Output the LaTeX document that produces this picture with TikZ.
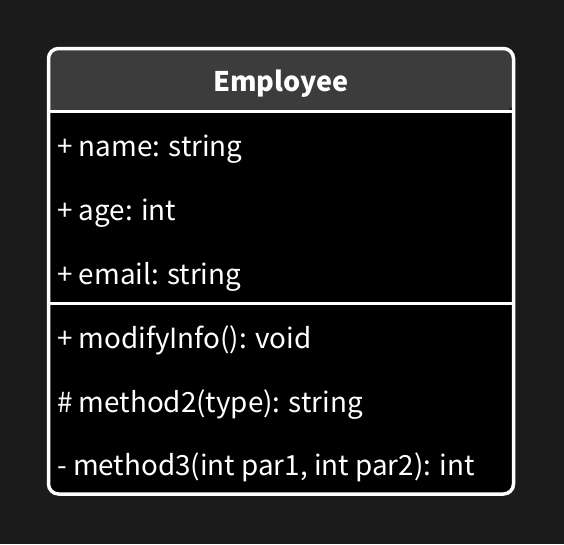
\documentclass[tikz,border=0pt]{standalone}
\usepackage{fontspec}
\newfontfamily\umlfont{Noto Sans CJK SC}
\definecolor{pagebg}{HTML}{1B1B1B}
\definecolor{headgray}{HTML}{3C3C3C}
\tikzset{
  member/.style={anchor=base west, inner sep=0pt, text=white, font=\umlfont\fontsize{27.8}{32}\selectfont},
  classname/.style={anchor=base, inner sep=0pt, text=white, font=\umlfont\bfseries\fontsize{27}{32}\selectfont},
}
\begin{document}
\begin{tikzpicture}[x=1pt, y=-1pt]
        % Page background, fixes the size of the picture
        \fill[pagebg] (0,0) rectangle (564,544);
        \useasboundingbox (0,0) rectangle (564,544);

        % Corners of the class box and the two dividers
        \coordinate (NW) at (48.5,48.5);
        \coordinate (SE) at (513.5,494);
        \coordinate (D1) at (48.5,111.5);
        \coordinate (D2) at (48.5,303.5);

        % Body of the class, then the grey title band
        \fill[black, rounded corners=10pt] (NW) rectangle (SE);
        \fill[headgray] (D1) [rounded corners=10pt] |- (NW -| SE) -- (D1 -| SE) [sharp corners] -- cycle;

        % Outline and dividers
        \draw[white, line width=3.5pt] (D1) -- (D1 -| SE);
        \draw[white, line width=3.5pt] (D2) -- (D2 -| SE);
        \draw[white, line width=3.5pt, rounded corners=10pt] (NW) rectangle (SE);

        % Class name
        \node[classname] (title) at (281,91) {Employee};

        % Attributes
        \node[member] (name) at (57,156) {+ name: string};
        \node[member] (age) at (57,220) {+ age: int};
        \node[member] (email) at (57,284) {+ email: string};

        % Operations
        \node[member] (modify) at (57,348) {+ modifyInfo(): void};
        \node[member] (meth2) at (57,412) {\# method2(type): string};
        \node[member] (meth3) at (57,475) {- method3(int par1, int par2): int};

    \end{tikzpicture}
\end{document}
